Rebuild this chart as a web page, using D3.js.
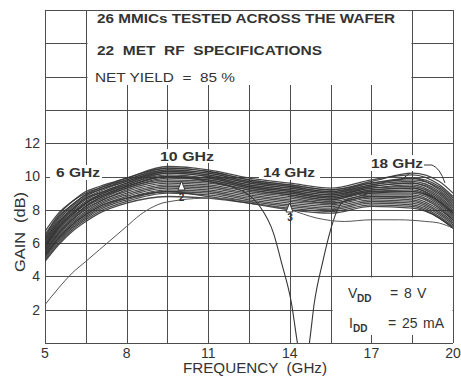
<!DOCTYPE html>
<html><head><meta charset="utf-8">
<script src="https://cdn.jsdelivr.net/npm/d3@7"></script>
<style>
body{margin:0;background:#fff}
svg{display:block}
text{font-family:"Liberation Sans",Arial,Helvetica,sans-serif;fill:#333;white-space:pre}
</style>
</head><body>
<svg id="c" width="461" height="378"></svg>
<script>
// ---- data ----
const freq = [5, 5.5, 6, 6.5, 7, 8, 9.5, 11, 12.5, 14, 15.5, 17, 18.5, 19.5, 20];
const bandGain = [
  [6.7, 7.8, 8.5, 9.1, 9.4, 9.9, 10.6, 10.4, 9.9, 9.6, 9.3, 9.8, 10.1, 9.5, 8.8],
  [6.5, 7.7, 8.5, 9.0, 9.3, 9.9, 10.5, 10.3, 9.8, 9.5, 9.2, 9.7, 10.2, 9.7, 9.0],
  [6.4, 7.6, 8.3, 8.9, 9.3, 9.8, 10.5, 10.3, 9.8, 9.5, 9.2, 9.6, 9.9, 9.4, 8.7],
  [6.3, 7.5, 8.3, 8.9, 9.2, 9.8, 10.4, 10.2, 9.7, 9.4, 9.1, 9.6, 9.8, 9.3, 8.6],
  [6.2, 7.4, 8.2, 8.8, 9.2, 9.7, 10.4, 10.2, 9.7, 9.4, 9.1, 9.5, 9.9, 9.2, 8.5],
  [6.2, 7.3, 8.1, 8.7, 9.1, 9.7, 10.3, 10.1, 9.6, 9.3, 9.0, 9.5, 9.7, 9.1, 8.4],
  [6.1, 7.2, 8.0, 8.7, 9.0, 9.6, 10.3, 10.1, 9.6, 9.3, 9.0, 9.4, 9.6, 9.0, 8.3],
  [6.0, 7.2, 8.0, 8.6, 9.0, 9.6, 10.2, 10.0, 9.5, 9.2, 8.9, 9.4, 9.6, 8.9, 8.2],
  [5.9, 7.1, 7.9, 8.5, 8.9, 9.5, 10.2, 10.0, 9.5, 9.2, 8.9, 9.3, 9.5, 8.8, 8.1],
  [5.9, 7.0, 7.8, 8.4, 8.9, 9.5, 10.1, 9.9, 9.4, 9.1, 8.8, 9.3, 9.4, 8.7, 8.0],
  [5.8, 6.9, 7.7, 8.4, 8.8, 9.4, 10.0, 9.9, 9.4, 9.1, 8.8, 9.2, 9.3, 8.6, 7.9],
  [5.7, 6.9, 7.7, 8.3, 8.7, 9.4, 10.0, 9.8, 9.3, 9.0, 8.7, 9.2, 9.3, 8.5, 7.8],
  [5.7, 6.8, 7.6, 8.2, 8.7, 9.3, 9.9, 9.8, 9.3, 9.0, 8.7, 9.1, 9.2, 8.5, 7.8],
  [5.6, 6.7, 7.5, 8.2, 8.6, 9.3, 9.8, 9.7, 9.2, 8.9, 8.6, 9.1, 9.1, 8.4, 7.7],
  [5.5, 6.6, 7.4, 8.1, 8.5, 9.2, 9.7, 9.6, 9.2, 8.9, 8.6, 9.0, 9.0, 8.3, 7.6],
  [5.5, 6.6, 7.4, 8.0, 8.5, 9.1, 9.6, 9.5, 9.1, 8.8, 8.5, 8.9, 8.9, 8.2, 7.5],
  [5.4, 6.5, 7.3, 7.9, 8.4, 9.0, 9.5, 9.4, 9.0, 8.7, 8.4, 8.8, 8.8, 8.1, 7.4],
  [5.3, 6.4, 7.2, 7.8, 8.3, 8.9, 9.4, 9.3, 8.9, 8.6, 8.4, 8.8, 8.7, 8.0, 7.4],
  [5.3, 6.3, 7.1, 7.7, 8.2, 8.8, 9.3, 9.2, 8.8, 8.5, 8.3, 8.7, 8.6, 7.9, 7.3],
  [5.2, 6.2, 7.0, 7.6, 8.1, 8.7, 9.2, 9.1, 8.7, 8.4, 8.2, 8.6, 8.5, 7.8, 7.2],
  [5.1, 6.1, 6.9, 7.5, 8.0, 8.6, 9.1, 9.0, 8.6, 8.3, 8.1, 8.5, 8.4, 7.7, 7.1],
  [5.0, 6.0, 6.8, 7.4, 7.9, 8.5, 9.0, 8.9, 8.5, 8.2, 8.0, 8.4, 8.3, 7.6, 7.0],
  [5.2, 6.3, 7.1, 7.7, 8.2, 8.7, 9.1, 8.8, 8.4, 8.0, 7.8, 8.2, 8.1, 7.5, 6.9],
  [4.9, 5.9, 6.7, 7.3, 7.8, 8.4, 8.8, 8.7, 8.4, 8.1, 7.9, 8.3, 8.2, 7.5, 6.9]
];
const notchFreq = [5, 5.5, 6, 6.5, 7, 8, 9.5, 11, 12, 12.4, 12.9, 13.4, 13.7, 14.06, 14.28, 14.5, 14.72, 14.9, 15.2, 15.5, 15.7, 15.9, 16.5, 17, 18.5, 19.5, 20];
const notchGain = [5.8, 7.0, 7.8, 8.4, 8.8, 9.4, 10.0, 9.7, 9.3, 9.0, 8.2, 6.6, 4.8, 2.4, 0.0, -2.0, 0.0, 2.4, 4.8, 6.8, 7.8, 8.4, 8.8, 9.0, 9.1, 8.5, 7.8];
const lowFreq = [5, 5.5, 6, 6.5, 7, 7.5, 8, 8.5, 9, 9.3, 9.6, 10, 11, 12, 12.5, 13, 14, 15, 16, 17, 18, 19, 19.5, 20];
const lowGain = [2.3, 3.3, 4.2, 4.9, 5.6, 6.3, 7.0, 7.7, 8.2, 8.4, 8.5, 8.6, 8.7, 8.6, 8.5, 8.3, 8.0, 7.5, 7.3, 7.4, 7.4, 7.3, 7.2, 6.9];

const xTicks = [5, 8, 11, 14, 17, 20];
const yTicks = [2, 4, 6, 8, 10, 12];
const xGrid = [5, 6.5, 8, 9.5, 11, 12.5, 14, 15.5, 17, 18.5, 20];
const yGrid = [0, 2, 4, 6, 8, 10, 12, 14, 16, 18, 20];
const headerLines = ["26 MMICs TESTED ACROSS THE WAFER", "22  MET  RF  SPECIFICATIONS", "NET YIELD  =  85 %"];
const freqLabels = ["6 GHz", "10 GHz", "14 GHz", "18 GHz"];

// ---- chart ----
const svg = d3.select("#c");
const x = d3.scaleLinear([5, 20], [45, 453]);
const y = d3.scaleLinear([0, 20], [343, 10]);
const ink = "#363636";
const px = v => Math.round(v) + 0.5;

svg.append("defs").append("clipPath").attr("id", "clip")
  .append("rect").attr("x", x(5)).attr("y", y(20)).attr("width", x(20) - x(5)).attr("height", y(0) - y(20));

const grid = svg.append("g").attr("stroke", "#4d4d4d").attr("stroke-width", 1);
grid.selectAll(".v").data(xGrid).join("line")
  .attr("x1", d => px(x(d))).attr("x2", d => px(x(d))).attr("y1", y(20)).attr("y2", y(0));
grid.selectAll(".h").data(yGrid).join("line")
  .attr("y1", d => px(y(d))).attr("y2", d => px(y(d))).attr("x1", x(5)).attr("x2", x(20));

// white boxes behind texts
const white = (x0, y0, x1, y1) => svg.append("rect").attr("x", x0).attr("y", y0)
  .attr("width", x1 - x0).attr("height", y1 - y0).attr("fill", "#fff");
white(px(x(6.5)) + 1, y(20) + 1, px(x(18.5)) - 1, 85);
white(px(x(15.5)) + 1, px(y(4)) + 1, px(x(20)) - 1, 335);
white(50, 165, 102, 180);
white(157, 149, 217, 163);
white(259, 164, 320, 180);
white(368, 155, 426, 171);

// header text
const hdr = [{x: 97, y: 23, w: 298, b: "bold"}, {x: 97, y: 55, w: 225, b: "bold"}, {x: 95, y: 82, w: 140, b: "normal"}];
svg.selectAll(".hdr").data(headerLines).join("text")
  .attr("x", (d, i) => hdr[i].x).attr("y", (d, i) => hdr[i].y)
  .attr("textLength", (d, i) => hdr[i].w).attr("lengthAdjust", "spacingAndGlyphs")
  .attr("font-size", 13.5).attr("font-weight", (d, i) => hdr[i].b).text(d => d);

// curves
const line = d3.line().curve(d3.curveMonotoneX);
const curves = svg.append("g").attr("clip-path", "url(#clip)").attr("fill", "none");
curves.selectAll(".band").data(bandGain).join("path")
  .attr("d", g => line(g.map((v, i) => [x(freq[i]), y(v)])))
  .attr("stroke", ink).attr("stroke-width", 1.3).attr("stroke-opacity", 0.9);
curves.append("path").attr("d", line(notchGain.map((v, i) => [x(notchFreq[i]), y(v)])))
  .attr("stroke", ink).attr("stroke-width", 1.1);
curves.append("path").attr("d", line(lowGain.map((v, i) => [x(lowFreq[i]), y(v)])))
  .attr("stroke", "#555").attr("stroke-width", 1);

// frequency annotations
const fl = [{x: 56, y: 177, w: 44}, {x: 160, y: 161, w: 54}, {x: 263, y: 177, w: 52}, {x: 371, y: 168, w: 52}];
svg.selectAll(".fl").data(freqLabels).join("text")
  .attr("x", (d, i) => fl[i].x).attr("y", (d, i) => fl[i].y)
  .attr("textLength", (d, i) => fl[i].w).attr("lengthAdjust", "spacingAndGlyphs")
  .attr("font-size", 13).attr("font-weight", "bold").text(d => d);
svg.append("path").attr("d", "M424,165 L432,165 Q440,168 445,183").attr("fill", "none").attr("stroke", ink);
svg.append("path").attr("d", "M401,180 L410,173").attr("fill", "none").attr("stroke", ink);

// curve markers
svg.append("path").attr("d", "M178,190 L181.5,181 L185,190 Z").attr("fill", "#fff").attr("stroke", ink);
svg.append("text").attr("x", 181.5).attr("y", 201).attr("text-anchor", "middle").attr("font-size", 10).attr("font-weight", "bold").text("2");
svg.append("path").attr("d", "M286,212 L289.5,203 L293,212 Z").attr("fill", "#fff").attr("stroke", ink);
svg.append("text").attr("x", 290).attr("y", 221).attr("text-anchor", "middle").attr("font-size", 10).attr("font-weight", "bold").text("3");

// tick labels
svg.selectAll(".yt").data(yTicks).join("text")
  .attr("x", 40).attr("y", d => y(d)).attr("dy", "0.35em").attr("text-anchor", "end")
  .attr("font-size", 14).text(d => d);
svg.selectAll(".xt").data(xTicks).join("text")
  .attr("x", d => x(d)).attr("y", 358).attr("text-anchor", "middle")
  .attr("font-size", 14).text(d => d);

// axis titles
svg.append("text").attr("transform", "translate(25,232) rotate(-90)").attr("text-anchor", "middle")
  .attr("font-size", 14).attr("textLength", 80).attr("lengthAdjust", "spacingAndGlyphs").text("GAIN  (dB)");
svg.append("text").attr("x", 183).attr("y", 373).attr("font-size", 14)
  .attr("textLength", 144).attr("lengthAdjust", "spacingAndGlyphs").text("FREQUENCY  (GHz)");

// bias conditions
const bias = svg.append("g").attr("font-size", 14);
bias.append("text").attr("x", 348).attr("y", 298).text("V");
bias.append("text").attr("x", 357).attr("y", 302).attr("font-size", 10).attr("font-weight", "bold").text("DD");
bias.append("text").attr("x", 390).attr("y", 298).text("=");
bias.append("text").attr("x", 404).attr("y", 298).text("8");
bias.append("text").attr("x", 417).attr("y", 298).text("V");
bias.append("text").attr("x", 349).attr("y", 328).text("I");
bias.append("text").attr("x", 353).attr("y", 332).attr("font-size", 10).attr("font-weight", "bold").text("DD");
bias.append("text").attr("x", 388).attr("y", 328).text("=");
bias.append("text").attr("x", 402).attr("y", 328).text("25");
bias.append("text").attr("x", 423).attr("y", 328).text("mA");
</script>
</body></html>
